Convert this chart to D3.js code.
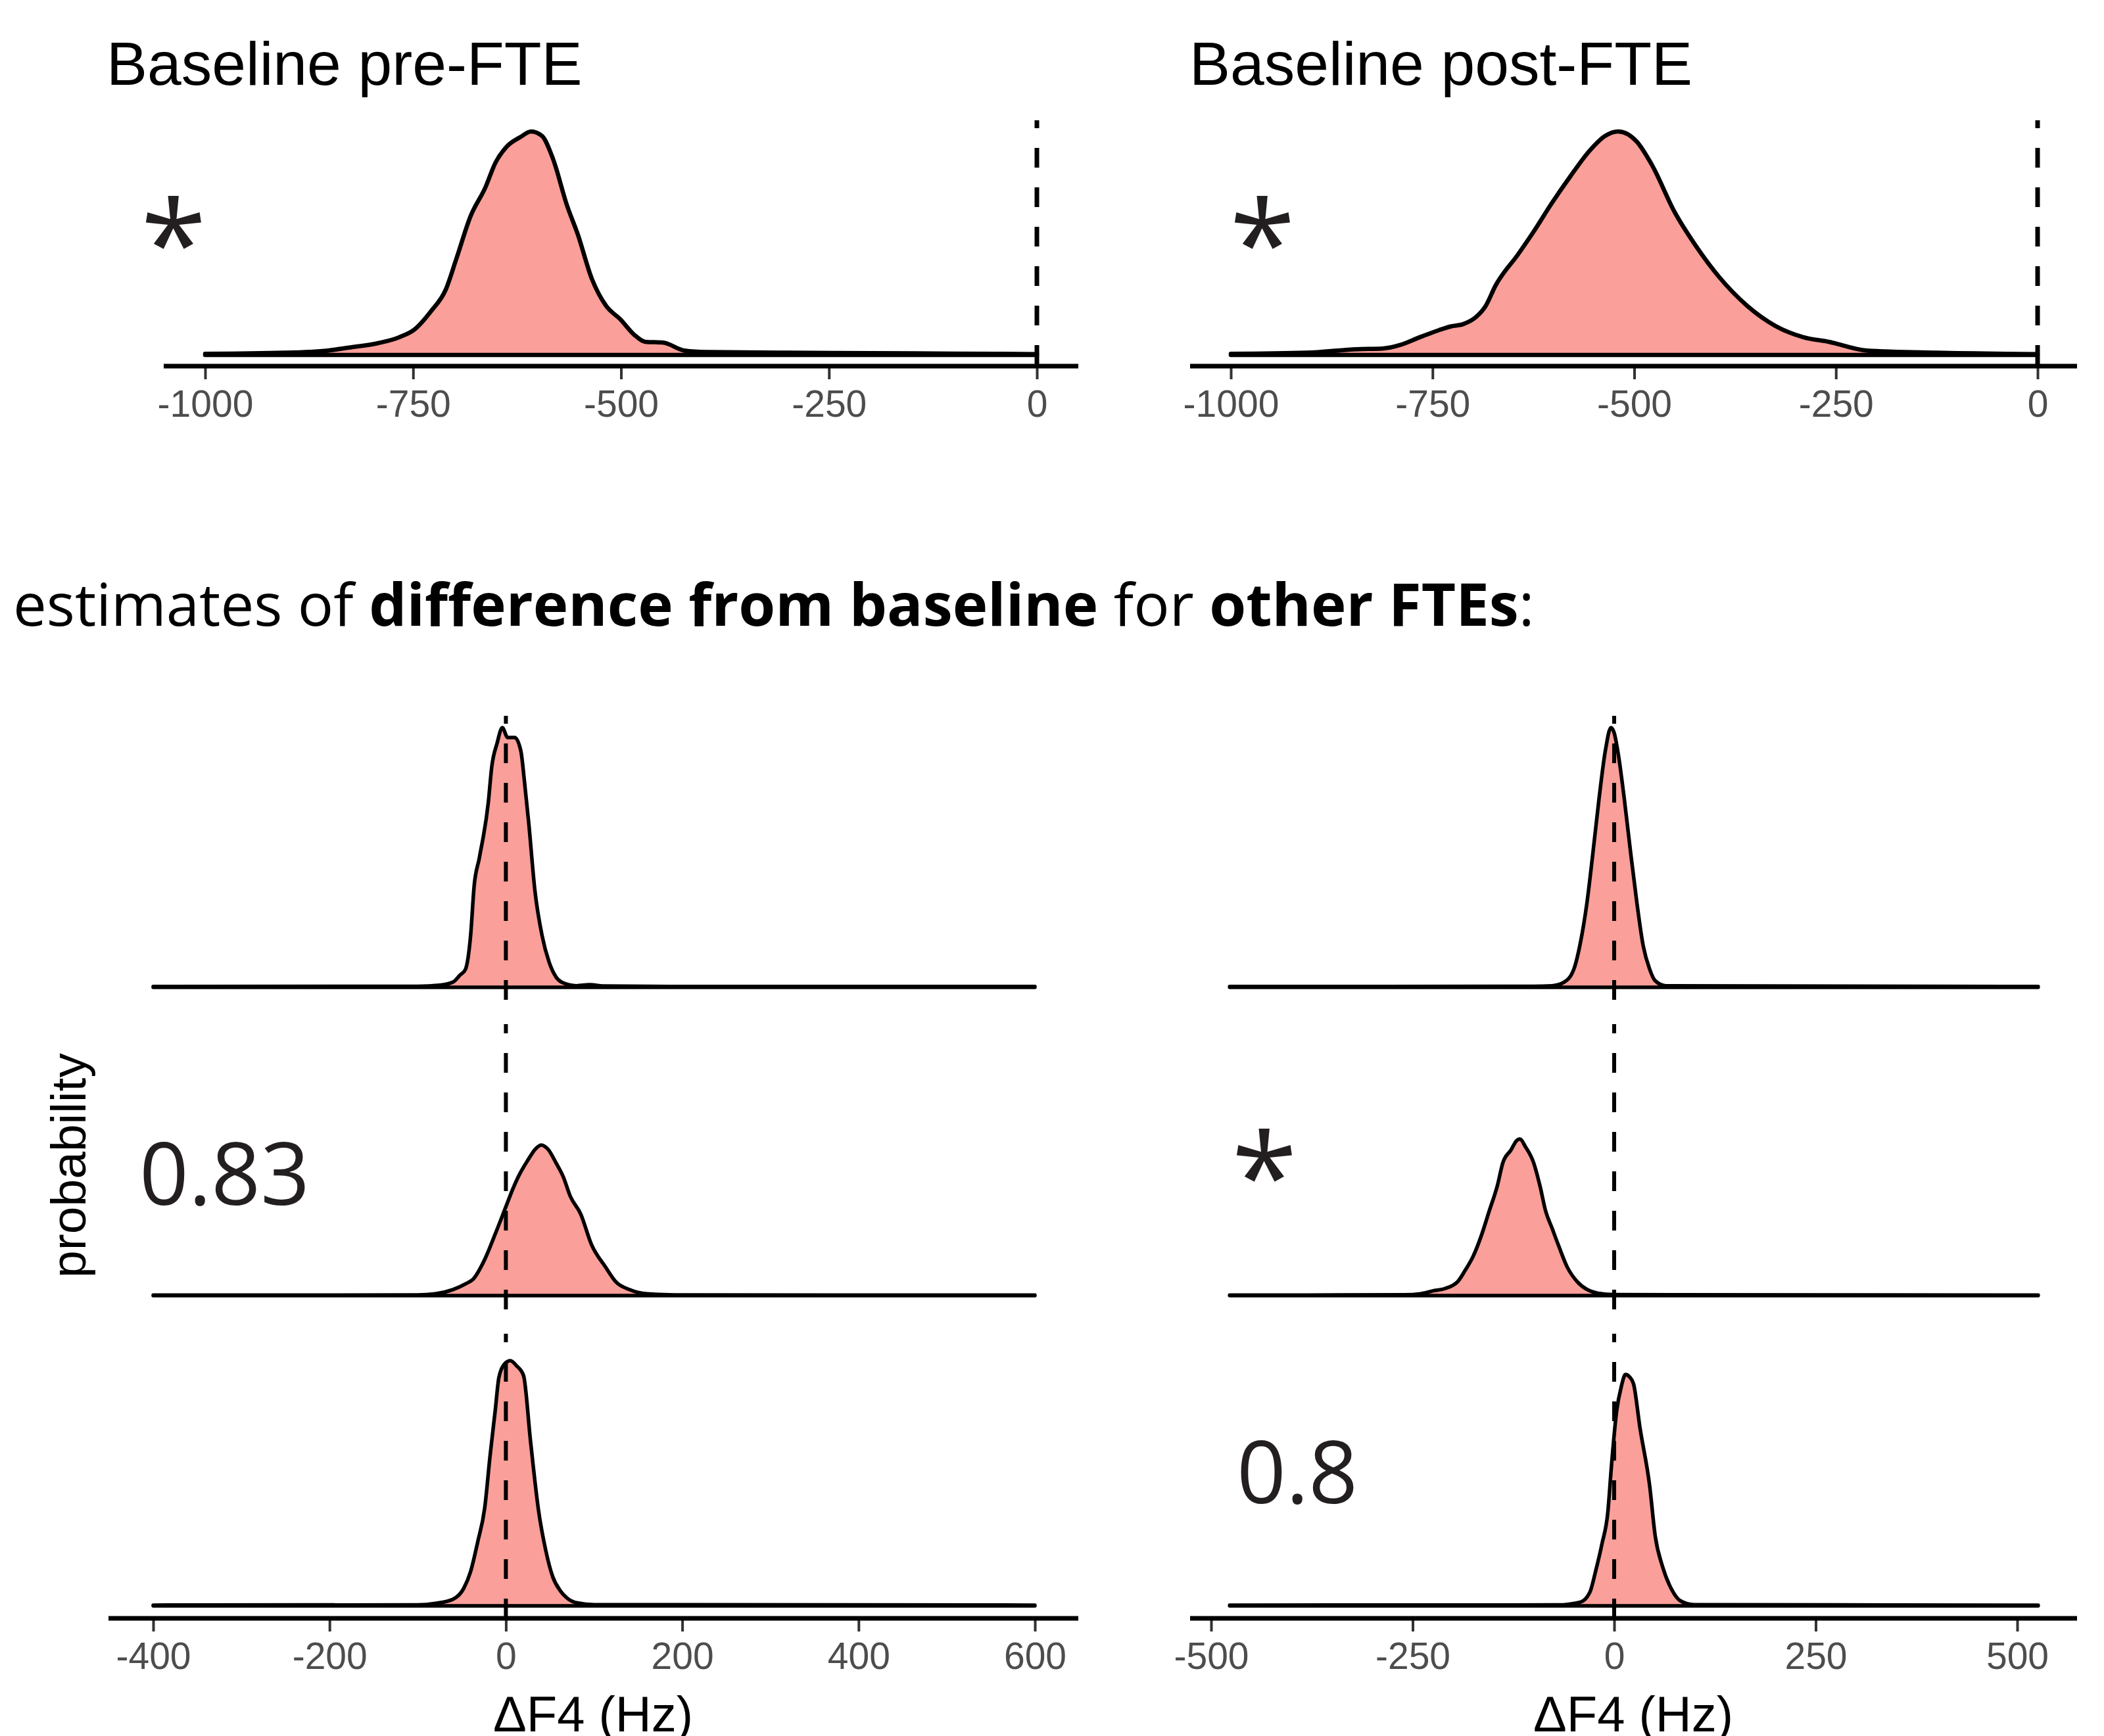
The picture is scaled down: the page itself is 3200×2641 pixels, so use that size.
<!DOCTYPE html>
<html>
<head>
<meta charset="utf-8">
<script src="https://cdn.jsdelivr.net/npm/d3@7"></script>
<style>
body { margin: 0; background: #fff; }
svg { display: block; }
</style>
</head>
<body>
<svg id="chart"></svg>
<script>
const W = 3200, H = 2641

// top row: baseline posteriors (density relative to own peak)
const preX = [-1000, -904, -852, -827, -792, -767, -749, -728, -711, -698, -681, -663, -651, -638, -621, -608, -595, -582, -565, -552, -535, -518, -501, -484, -471, -449, -424, -398, -300, -200, -100, 0]
const preD = [0.005, 0.01, 0.02, 0.033, 0.053, 0.079, 0.112, 0.198, 0.29, 0.43, 0.62, 0.75, 0.86, 0.93, 0.975, 1, 0.98, 0.88, 0.67, 0.54, 0.34, 0.22, 0.16, 0.09, 0.059, 0.055, 0.02, 0.013, 0.01, 0.008, 0.006, 0.004]

const postX = [-1000, -906, -843, -812, -789, -766, -742, -727, -712, -696, -684, -672, -644, -625, -602, -579, -555, -536, -520, -497, -478, -450, -423, -395, -360, -325, -290, -259, -212, -126, 0]
const postD = [0.005, 0.01, 0.026, 0.029, 0.046, 0.079, 0.111, 0.128, 0.138, 0.17, 0.22, 0.31, 0.45, 0.55, 0.68, 0.8, 0.915, 0.98, 1, 0.955, 0.85, 0.64, 0.485, 0.35, 0.22, 0.13, 0.079, 0.059, 0.02, 0.01, 0.004]

// bottom row: difference from baseline, pre-FTE column
const l1X = [-400, -100, -75, -60, -52, -46, -40, -36, -30, -20, -16, -10, -4, 2, 10, 17, 21, 26, 33, 41, 49, 57, 65, 80, 95, 110, 200, 600]
const l1D = [0.003, 0.004, 0.008, 0.02, 0.047, 0.068, 0.2, 0.39, 0.5, 0.71, 0.85, 0.94, 1, 0.962, 0.962, 0.91, 0.795, 0.63, 0.37, 0.2, 0.097, 0.039, 0.017, 0.006, 0.01, 0.005, 0.003, 0.003]
const l2X = [-400, -100, -80, -60, -45, -37, -24, -12, 0, 8, 15, 25, 33, 40, 48, 57, 65, 73, 85, 97, 113, 125, 140, 160, 200, 600]
const l2D = [0.003, 0.004, 0.012, 0.04, 0.08, 0.11, 0.24, 0.41, 0.59, 0.71, 0.8, 0.9, 0.97, 1, 0.97, 0.88, 0.79, 0.66, 0.54, 0.34, 0.19, 0.09, 0.04, 0.012, 0.004, 0.003]
const l3X = [-400, -100, -80, -60, -48, -40, -32, -24, -18, -12, -8, -2, 5, 12, 20, 28, 37, 45, 53, 62, 70, 81, 100, 600]
const l3D = [0.003, 0.004, 0.01, 0.027, 0.07, 0.14, 0.26, 0.4, 0.61, 0.8, 0.93, 0.985, 1, 0.98, 0.94, 0.67, 0.39, 0.23, 0.12, 0.06, 0.03, 0.012, 0.005, 0.003]

// bottom row: post-FTE column
const r1X = [-477, -100, -77, -62, -50, -42, -34, -27, -19, -11, -4, 0, 5, 12, 20, 28, 36, 44, 51, 64, 526]
const r1D = [0.003, 0.004, 0.006, 0.02, 0.07, 0.17, 0.32, 0.5, 0.72, 0.91, 1, 0.98, 0.9, 0.74, 0.53, 0.33, 0.16, 0.07, 0.025, 0.006, 0.003]
const r2X = [-477, -260, -240, -225, -210, -194, -185, -175, -165, -155, -145, -138, -128, -121, -117, -110, -100, -92, -85, -77, -69, -58, -46, -34, -20, 0, 526]
const r2D = [0.003, 0.005, 0.012, 0.03, 0.045, 0.09, 0.16, 0.25, 0.38, 0.54, 0.7, 0.85, 0.93, 0.99, 1, 0.95, 0.85, 0.7, 0.54, 0.43, 0.32, 0.18, 0.09, 0.04, 0.015, 0.006, 0.003]
const r3X = [-477, -70, -42, -30, -23, -15, -8, -3, 3, 9, 14, 19, 24, 32, 44, 51, 60, 71, 82, 99, 526]
const r3D = [0.003, 0.004, 0.016, 0.06, 0.15, 0.27, 0.4, 0.62, 0.84, 0.95, 1, 0.99, 0.96, 0.77, 0.52, 0.3, 0.17, 0.073, 0.022, 0.005, 0.003]

// relative peak heights of the ridges within each bottom column
const leftPeaks = [1, 0.58, 0.944]
const rightPeaks = [1, 0.603, 0.891]

const titles = ['Baseline pre-FTE', 'Baseline post-FTE']
const topLabels = ['*', '*']
const leftLabels = ['', '0.83', '']
const rightLabels = ['', '*', '0.8']

const topTicks = [-1000, -750, -500, -250, 0]
const leftTicks = [-400, -200, 0, 200, 400, 600]
const rightTicks = [-500, -250, 0, 250, 500]

const sansR = "'Liberation Sans', Arial, sans-serif"
const sansO = "'Open Sans', 'Noto Sans', sans-serif"

const svg = d3.select('#chart').attr('width', W).attr('height', H)
svg.append('rect').attr('width', W).attr('height', H).attr('fill', '#fff')

const drawRidge = (x, baseline, height, xs, ds, peak, lw) => {
    const y = d3.scaleLinear().domain([0, 1]).range([baseline, baseline - height])
    const pts = xs.map((v, i) => [v, ds[i] * peak])
    const area = d3.area()
        .x(d => x(d[0]))
        .y0(baseline)
        .y1(d => y(d[1]))
        .curve(d3.curveMonotoneX)
    svg.append('path')
        .datum(pts)
        .attr('d', area)
        .attr('fill', '#F8766D')
        .attr('fill-opacity', 0.7)
        .attr('stroke', '#000')
        .attr('stroke-width', lw)
        .attr('stroke-linejoin', 'round')
        .attr('stroke-linecap', 'round')
}

const drawVline = (x, y1, y2, lw) => {
    svg.append('line')
        .attr('x1', x(0)).attr('x2', x(0))
        .attr('y1', y1).attr('y2', y2)
        .attr('stroke', '#000')
        .attr('stroke-width', lw)
        .attr('stroke-dasharray', '30,30')
}

const drawAxis = (x, ticks, axisY, x1, x2) => {
    const axis = d3.axisBottom(x)
        .tickValues(ticks)
        .tickSize(20)
        .tickPadding(17)
        .tickFormat(d => String(d))
    const g = svg.append('g')
        .attr('transform', `translate(0,${axisY})`)
        .call(axis)
        .attr('font-family', sansR)
        .attr('font-size', 57)
    g.select('.domain').remove()
    g.selectAll('.tick line').attr('stroke', '#333').attr('stroke-width', 4)
    g.selectAll('.tick text').attr('fill', '#4D4D4D')
    g.append('line')
        .attr('x1', x1).attr('x2', x2)
        .attr('stroke', '#000')
        .attr('stroke-width', 7)
}

const label = (txt, px, py, size, anchor) => {
    svg.append('text')
        .attr('x', px).attr('y', py)
        .attr('font-family', sansO)
        .attr('font-size', size)
        .attr('fill', '#231F20')
        .style('text-anchor', anchor)
        .text(txt)
}

// ---- top row ----
const topX = [
    d3.scaleLinear().domain([-1000, 0]).range([312, 1577]),
    d3.scaleLinear().domain([-1000, 0]).range([1872, 3099])
]
const topAxisExt = [[249, 1640], [1810, 3159]]
const topTitleX = [162, 1809]
const topStarX = [264, 1920]

;[[preX, preD], [postX, postD]].forEach(([xs, ds], i) => {
    const x = topX[i]
    drawRidge(x, 540, 340, xs, ds, 1, 6.5)
    drawVline(x, 555, 183, 7)
    drawAxis(x, topTicks, 557, topAxisExt[i][0], topAxisExt[i][1])
    svg.append('text')
        .attr('x', topTitleX[i]).attr('y', 129)
        .attr('font-family', sansR)
        .attr('font-size', 93)
        .attr('fill', '#000')
        .text(titles[i])
    label(topLabels[i], topStarX[i], 436, 182, 'middle')
})

// ---- subtitle ----
const sub = svg.append('text')
    .attr('x', 20).attr('y', 952)
    .attr('font-family', sansO)
    .attr('font-size', 90.5)
    .attr('fill', '#000')
    .style('white-space', 'pre')
;[['estimates of ', 400], ['difference from baseline', 700], [' for ', 400], ['other FTEs', 700], [':', 400]]
    .forEach(([t, w]) => sub.append('tspan').attr('font-weight', w).text(t))

// ---- bottom row ----
const baselines = [1502, 1971, 2443]
const facetSpans = [[1521, 1089], [1992, 1558], [2462, 2029]]

const xL = d3.scaleLinear().domain([-400, 600]).range([233, 1574])
const xR = d3.scaleLinear().domain([-500, 500]).range([1842, 3068])

const leftRidges = [[l1X, l1D], [l2X, l2D], [l3X, l3D]]
const rightRidges = [[r1X, r1D], [r2X, r2D], [r3X, r3D]]

leftRidges.forEach(([xs, ds], i) => drawRidge(xL, baselines[i], 395, xs, ds, leftPeaks[i], 5.5))
rightRidges.forEach(([xs, ds], i) => drawRidge(xR, baselines[i], 395, xs, ds, rightPeaks[i], 5.5))

facetSpans.forEach(([b, t]) => {
    drawVline(xL, b, t, 6)
    drawVline(xR, b, t, 6)
})

drawAxis(xL, leftTicks, 2462, 165, 1640)
drawAxis(xR, rightTicks, 2462, 1810, 3159)

// annotations in the facets
const labelY = [0, 1833, 2287]
const starY = [0, 1855, 0]
leftLabels.forEach((t, i) => { if (t) label(t, 212, labelY[i], 131, 'start') })
rightLabels.forEach((t, i) => {
    if (t === '*') label(t, 1923, starY[i], 182, 'middle')
    else if (t) label(t, 1881, labelY[i], 131, 'start')
})

// axis titles
;[[xL, 902], [xR, 2484]].forEach(([x, cx]) => {
    svg.append('text')
        .attr('x', cx).attr('y', 2634)
        .attr('font-family', sansR)
        .attr('font-size', 76)
        .attr('fill', '#000')
        .style('text-anchor', 'middle')
        .text('ΔF4 (Hz)')
})

svg.append('text')
    .attr('transform', 'translate(130,1773) rotate(-90)')
    .attr('font-family', sansR)
    .attr('font-size', 75)
    .attr('fill', '#000')
    .style('text-anchor', 'middle')
    .text('probability')
</script>
</body>
</html>
